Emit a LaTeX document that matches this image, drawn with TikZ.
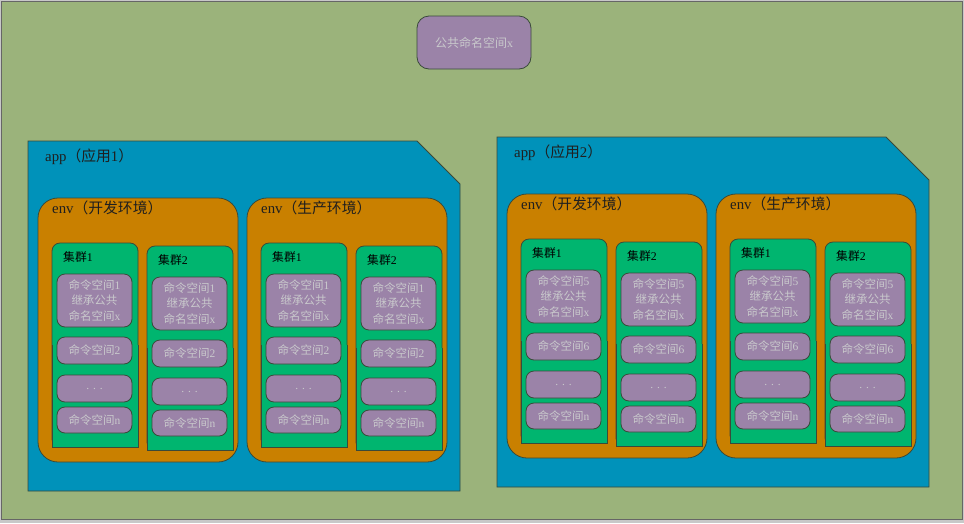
\documentclass[tikz,border=0pt]{standalone}
\usepackage{fontspec}
\setmainfont{Liberation Serif}
\newfontfamily\cjk{Noto Sans CJK SC}
\definecolor{bggreen}{HTML}{9BB37B}
\definecolor{bggrey}{HTML}{C8C8C8}
\definecolor{appblue}{HTML}{0092BA}
\definecolor{envorange}{HTML}{C98000}
\definecolor{clgreen}{HTML}{00B56F}
\definecolor{nspurple}{HTML}{9B83A8}
\definecolor{nstext}{HTML}{C9C9CC}
\definecolor{edgecol}{HTML}{3A4A3A}
\tikzset{
  edge/.style={draw=edgecol, line width=0.8pt},
  nsbox/.style={edge, fill=nspurple, rounded corners=8pt, inner sep=0pt, outer sep=0pt,
    minimum width=75pt, text=nstext, align=center,
    font=\fontsize{11.5pt}{15.5pt}\selectfont},
  envbox/.style={edge, fill=envorange, rounded corners=20pt, inner sep=0pt, outer sep=0pt},
  clbox/.style={edge, fill=clgreen, rounded corners=8pt, inner sep=0pt, outer sep=0pt},
  bigtext/.style={inner sep=0pt, text=black!88, font=\fontsize{14.8pt}{16pt}\selectfont},
  cltext/.style={inner sep=0pt, text=black, font=\fontsize{11.8pt}{14pt}\selectfont},
}
% cluster: #1 name, #2 x, #3 y, #4 first ns number, #5 second ns number, #6 cluster number
\newcommand\clusterpanel[6]{%
  \begin{scope}[shift={(#2,#3)}]
    \node[clbox, anchor=north west, minimum width=86pt, minimum height=204pt] (#1) at (0,0) {};
    \fill[clgreen] (#1.west) rectangle (#1.south east);
    \draw[edge] (#1.west) -- (#1.south west) -- (#1.south east) -- (#1.east);
    \node[cltext, anchor=west] (#1-l) at (11,14) {{\cjk 集群}#6};
    \node[nsbox, minimum height=53pt] (#1-a) at (42.5,57.5) {{\cjk 命令空间}#4\\{\cjk 继承公共}\\{\cjk 命名空间}x};
    \node[nsbox, minimum height=27pt] (#1-b) at (42.5,107.5) {{\cjk 命令空间}#5};
    \node[nsbox, minimum height=27pt] (#1-c) at (42.5,145.5) {. . .};
    \node[nsbox, minimum height=26pt] (#1-d) at (42.5,177) {{\cjk 命令空间}n};
  \end{scope}}
% env: #1 name, #2 x, #3 y, #4 label, #5 first ns, #6 second ns
\newcommand\envpanel[6]{%
  \begin{scope}[shift={(#2,#3)}]
    \node[envbox, anchor=north west, minimum width=200pt, minimum height=264pt] (#1) at (0,0) {};
    \node[bigtext, anchor=west] (#1-l) at (14,10) {env{\cjk （#4）}};
    \clusterpanel{#1-c1}{14}{45}{#5}{#6}{1}
    \clusterpanel{#1-c2}{109}{48}{#5}{#6}{2}
  \end{scope}}
% app: #1 name, #2 x, #3 y, #4 number, #5 first ns, #6 second ns
\newcommand\apppanel[6]{%
  \begin{scope}[shift={(#2,#3)}]
    \node[inner sep=0pt, outer sep=0pt, anchor=north west, minimum width=432pt, minimum height=350pt] (#1) at (0,0) {};
    \draw[edge, fill=appblue] (#1.south west) -- (#1.north west) -- ([xshift=-43pt]#1.north east)
      -- ([yshift=-43pt]#1.north east) -- (#1.south east) -- cycle;
    \node[bigtext, anchor=west] (#1-l) at (17,16) {app{\cjk （应用}#4{\cjk ）}};
    \envpanel{#1-dev}{10}{57}{开发环境}{#5}{#6}
    \envpanel{#1-prod}{219}{57}{生产环境}{#5}{#6}
  \end{scope}}
\begin{document}
\begin{tikzpicture}[x=1pt,y=-1pt]
  \useasboundingbox (0,0) rectangle (964,523);
  \fill[bggrey] (0,0) rectangle (964,523);
  \draw[draw=black!60, line width=0.8pt, fill=bggreen] (1,1) rectangle (962,519.5);
  \node[nsbox, rounded corners=12pt, minimum width=114pt, minimum height=53pt,
        font=\fontsize{12pt}{14pt}\selectfont] (pub) at (474,42.5) {{\cjk 公共命名空间}x};
  \apppanel{app1}{28}{141}{1}{1}{2}
  \apppanel{app2}{497}{137}{2}{5}{6}
\end{tikzpicture}
\end{document}
